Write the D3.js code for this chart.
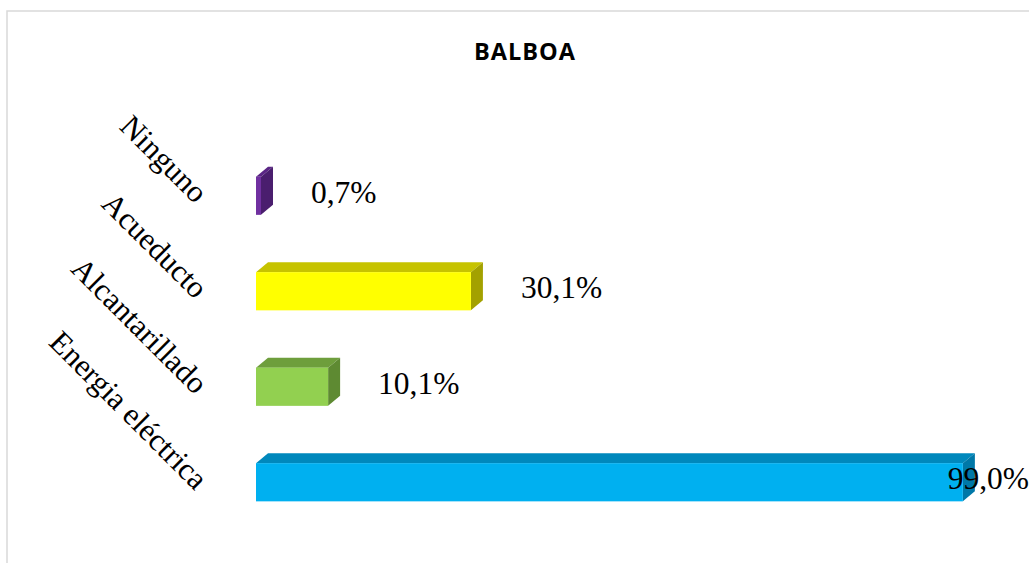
<!DOCTYPE html>
<html>
<head>
<meta charset="utf-8">
<script src="https://cdn.jsdelivr.net/npm/d3@7"></script>
<style>
html,body{margin:0;padding:0;background:#fff;overflow:hidden;}
</style>
</head>
<body>
<svg id="chart" width="1029" height="563"></svg>
<script>
const title = "BALBOA";
const categories = ["Ninguno", "Acueducto", "Alcantarillado", "Energia eléctrica"];
const values = [0.7, 30.1, 10.1, 99.0];
const valueLabels = ["0,7%", "30,1%", "10,1%", "99,0%"];
const frontColors = ["#7030a0", "#ffff00", "#92d050", "#00b0f0"];
const topColors = ["#5a2585", "#c6c300", "#6e9e3c", "#0088bc"];
const sideColors = ["#4a1e6e", "#a3a100", "#5e8a32", "#0078a8"];

const W = 1029, H = 563;
const svg = d3.select("#chart");

// outer frame
svg.append("rect")
  .attr("x", 7).attr("y", 11)
  .attr("width", 1040).attr("height", 600)
  .attr("fill", "#fff").attr("stroke", "#d9d9d9").attr("stroke-width", 1.5);

svg.append("text")
  .attr("x", 525).attr("y", 60)
  .attr("text-anchor", "middle")
  .attr("font-family", "'Open Sans', 'Liberation Sans', Arial, sans-serif")
  .attr("font-weight", "bold").attr("font-size", 23.5)
  .attr("letter-spacing", 1)
  .text(title);

const x = d3.scaleLinear().domain([0, 100]).range([256, 970]);
const y = d3.scaleBand().domain(categories).range([148, 530])
  .paddingInner(0.6).paddingOuter(0.3);

const dx = 12, dy = 10;
const data = categories.map((c, i) => ({c, v: values[i], lab: valueLabels[i], i}));

const g = svg.append("g");
data.forEach(d => {
  const x0 = x(0), x1 = x(d.v), t = y(d.c), b = y(d.c) + y.bandwidth();
  g.append("path")
    .attr("d", `M${x0},${t}L${x0+dx},${t-dy}L${x1+dx},${t-dy}L${x1},${t}Z`)
    .attr("fill", topColors[d.i]);
  g.append("path")
    .attr("d", `M${x1},${t}L${x1+dx},${t-dy}L${x1+dx},${b-dy}L${x1},${b}Z`)
    .attr("fill", sideColors[d.i]);
  g.append("rect")
    .attr("x", x0).attr("y", t)
    .attr("width", x1 - x0).attr("height", b - t)
    .attr("fill", frontColors[d.i]);
});

// value labels
data.forEach(d => {
  const cy = y(d.c) + y.bandwidth() / 2;
  const txt = svg.append("text")
    .attr("y", cy + 7)
    .attr("font-family", "'Liberation Serif', 'Times New Roman', serif")
    .attr("font-size", 31.5)
    .attr("fill", "#000")
    .text(d.lab);
  const w = txt.node().getComputedTextLength();
  txt.attr("x", Math.min(x(d.v) + 50, W - w));
});

// category labels (rotated)
data.forEach(d => {
  const cy = y(d.c) + y.bandwidth() / 2;
  svg.append("text")
    .attr("transform", `translate(${x(0) - 61},${cy + 9}) rotate(45)`)
    .attr("text-anchor", "end")
    .attr("font-family", "'Liberation Serif', 'Times New Roman', serif")
    .attr("font-size", 31)
    .attr("fill", "#000")
    .text(d.c);
});
</script>
</body>
</html>
